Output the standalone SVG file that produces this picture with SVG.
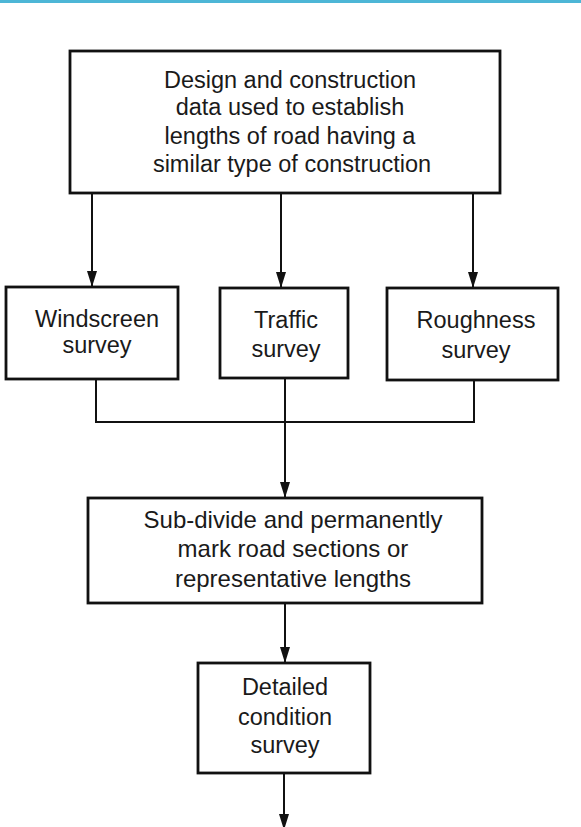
<svg xmlns="http://www.w3.org/2000/svg" width="581" height="827" viewBox="0 0 581 827">
<style>
.box{fill:#fff;stroke:#111;stroke-width:2.8}
.t{font-family:"Liberation Sans",Arial,sans-serif;font-size:23.5px;fill:#1a1a1a;text-anchor:middle}
.c{fill:none;stroke:#111;stroke-width:2}
</style>
<defs>
<marker id="ah" markerUnits="userSpaceOnUse" viewBox="0 0 16 10" refX="16" refY="5" markerWidth="16" markerHeight="10" orient="auto">
<path d="M0,0 L16,5 L0,10 z" fill="#111"/>
</marker>
</defs>
<rect x="0" y="0" width="581" height="3" fill="#4db6d6"/>
<g id="connectors">
<line class="c" x1="92" y1="193" x2="92" y2="287" marker-end="url(#ah)"/>
<line class="c" x1="281" y1="193" x2="281" y2="288" marker-end="url(#ah)"/>
<line class="c" x1="473" y1="193" x2="473" y2="288" marker-end="url(#ah)"/>
<polyline class="c" points="96,380 96,422 474,422 474,380"/>
<line class="c" x1="285" y1="378" x2="285" y2="422"/>
<line class="c" x1="285" y1="422" x2="285" y2="498" marker-end="url(#ah)"/>
<line class="c" x1="285" y1="603" x2="285" y2="663" marker-end="url(#ah)"/>
<line class="c" x1="284" y1="773" x2="284" y2="830" marker-end="url(#ah)"/>
</g>
<g id="design">
<rect class="box" x="70" y="51" width="430" height="142"/>
<text class="t" x="290" y="88">Design and construction</text>
<text class="t" x="290" y="115">data used to establish</text>
<text class="t" x="290" y="144">lengths of road having a</text>
<text class="t" x="292" y="172">similar type of construction</text>
</g>
<g id="windscreen">
<rect class="box" x="6" y="287" width="172" height="92"/>
<text class="t" x="97" y="327">Windscreen</text>
<text class="t" x="97" y="353">survey</text>
</g>
<g id="traffic">
<rect class="box" x="220" y="288" width="128" height="90"/>
<text class="t" x="286" y="328">Traffic</text>
<text class="t" x="286" y="357">survey</text>
</g>
<g id="roughness">
<rect class="box" x="387" y="288" width="171" height="92"/>
<text class="t" x="476" y="328">Roughness</text>
<text class="t" x="476" y="358">survey</text>
</g>
<g id="subdivide">
<rect class="box" x="88" y="498" width="394" height="105"/>
<text class="t" x="293" y="528" style="font-size:24px">Sub-divide and permanently</text>
<text class="t" x="293" y="557" style="font-size:24px">mark road sections or</text>
<text class="t" x="293" y="587" style="font-size:24px">representative lengths</text>
</g>
<g id="detailed">
<rect class="box" x="198" y="663" width="172" height="110"/>
<text class="t" x="285" y="695">Detailed</text>
<text class="t" x="285" y="725">condition</text>
<text class="t" x="285" y="753">survey</text>
</g>
</svg>
